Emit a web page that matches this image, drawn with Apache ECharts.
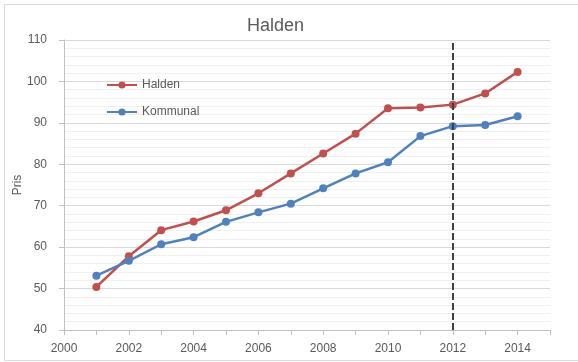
<!DOCTYPE html>
<html>
<head>
<meta charset="utf-8">
<script src="https://cdn.jsdelivr.net/npm/echarts@6/dist/echarts.min.js"></script>
<style>html,body{margin:0;padding:0;background:#fff}#c{width:578px;height:362px}</style>
</head>
<body>
<div id="c"></div>
<script>
const years = [2001,2002,2003,2004,2005,2006,2007,2008,2009,2010,2011,2012,2013,2014];
const halden = [50.4,57.8,64.1,66.2,68.9,73.0,77.8,82.6,87.4,93.5,93.7,94.4,97.1,102.3];
const kommunal = [53.1,56.7,60.7,62.4,66.1,68.4,70.5,74.2,77.8,80.5,86.8,89.2,89.5,91.6];
const markerYear = 2012;
const seriesNames = ['Halden','Kommunal'];

const chart = echarts.init(document.getElementById('c'), null, {renderer:'canvas'});
const font = 'Liberation Sans, Arial, sans-serif';
const txt = '#595959';
chart.setOption({
  animation:false,
  textStyle:{fontFamily:font},
  graphic:[{type:'rect', shape:{x:4.5,y:4.5,width:600,height:356}, style:{fill:'none',stroke:'#d9d9d9',lineWidth:1}, silent:true}],
  title:{text:'Halden', left:242, top:12, textStyle:{fontSize:18, fontWeight:'normal', color:txt, fontFamily:font}},
  legend:{orient:'vertical', left:101, top:74, itemWidth:30, itemHeight:9, itemGap:15,
    textStyle:{fontSize:12, color:txt, fontFamily:font}, data:seriesNames},
  grid:{left:64, right:28, top:40, bottom:32, containLabel:false, outerBoundsMode:'none'},
  xAxis:{type:'value', min:2000, max:2015, interval:1,
    axisLine:{lineStyle:{color:'#bfbfbf'}},
    axisTick:{show:true, length:5, lineStyle:{color:'#bfbfbf'}},
    axisLabel:{fontSize:12, color:txt, margin:13, formatter:v=> (v%2===0 && v<2015) ? String(v) : ''},
    splitLine:{show:false}},
  yAxis:{type:'value', min:40, max:110, interval:10, name:'Pris', nameLocation:'middle', nameGap:40,
    nameMoveOverlap:false,
    nameTextStyle:{fontSize:12, color:txt},
    axisLine:{show:true, lineStyle:{color:'#bfbfbf'}},
    axisTick:{show:true, length:5, lineStyle:{color:'#bfbfbf'}},
    axisLabel:{fontSize:12, color:txt, margin:17},
    splitLine:{lineStyle:{color:'#d9d9d9'}},
    minorTick:{show:false, splitNumber:5},
    minorSplitLine:{show:true, lineStyle:{color:'#f0f0f0'}}},
  series:[
    {name:seriesNames[0], type:'line', data:years.map((y,i)=>[y,halden[i]]), symbol:'circle', symbolSize:8,
      itemStyle:{color:'#c0504d'}, lineStyle:{width:2.5, color:'#c0504d'},
      markLine:{silent:true, symbol:['none','none'], label:{show:false},
        lineStyle:{color:'#404040', type:[7,3], width:2}, data:[{xAxis:markerYear}]}},
    {name:seriesNames[1], type:'line', data:years.map((y,i)=>[y,kommunal[i]]), symbol:'circle', symbolSize:8,
      itemStyle:{color:'#4f81bd'}, lineStyle:{width:2.5, color:'#4f81bd'}}
  ]
});
</script>
</body>
</html>
